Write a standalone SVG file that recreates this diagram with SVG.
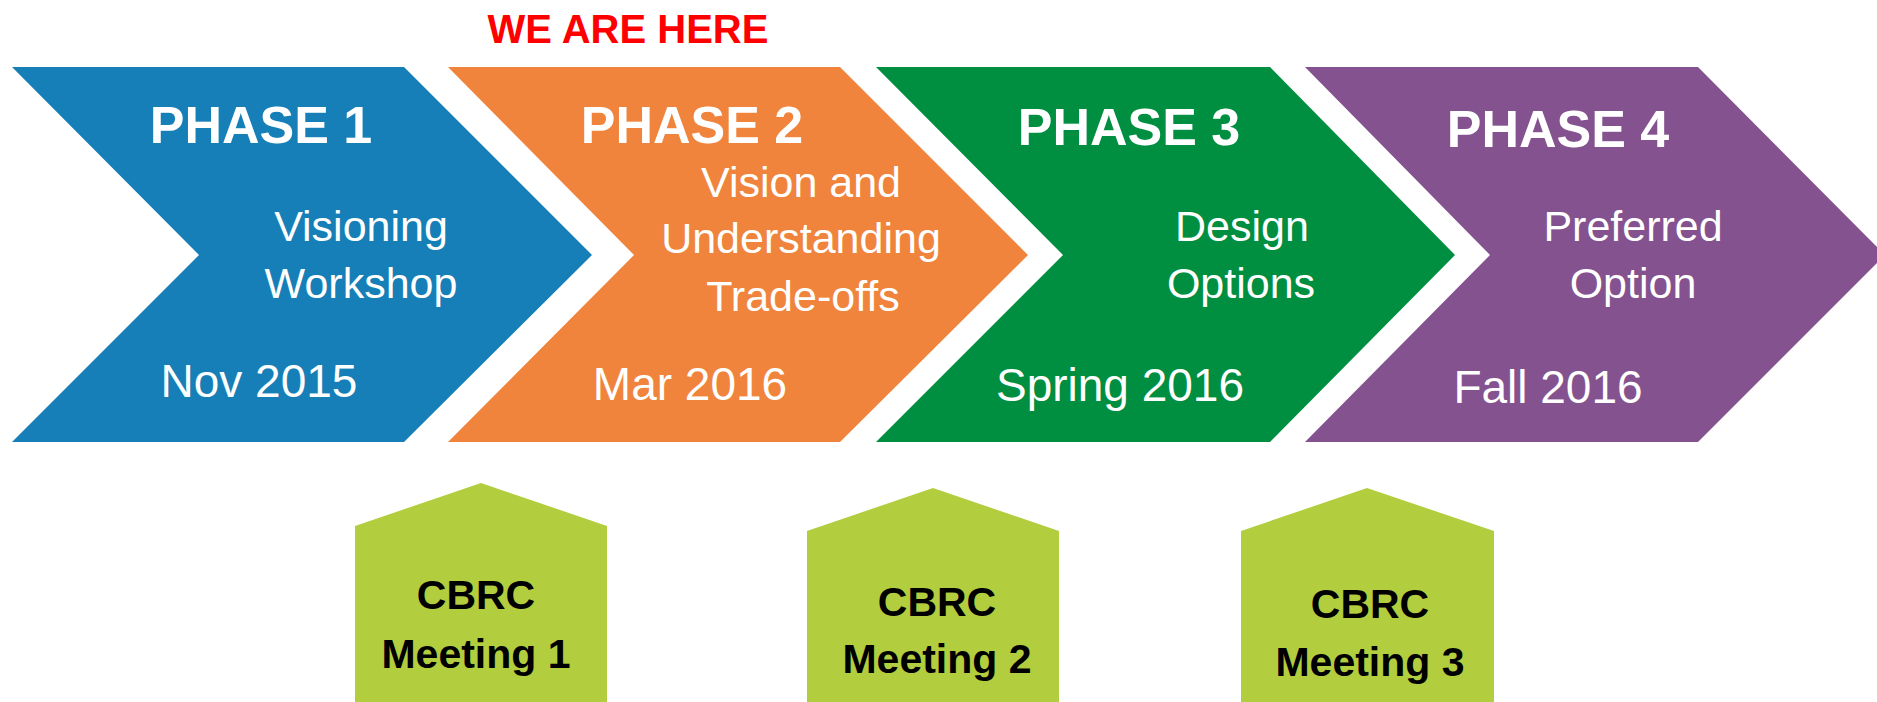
<svg xmlns="http://www.w3.org/2000/svg" width="1877" height="702" viewBox="0 0 1877 702">
  <style>
    .phase { font-family: "Liberation Sans", Arial, sans-serif; font-weight: bold; font-size: 52px; fill: #ffffff; text-anchor: middle; }
    .desc { font-family: "Liberation Sans", Arial, sans-serif; font-size: 43px; fill: #ffffff; text-anchor: middle; }
    .date { font-family: "Liberation Sans", Arial, sans-serif; font-size: 46px; fill: #ffffff; text-anchor: middle; }
    .meet { font-family: "Liberation Sans", Arial, sans-serif; font-weight: bold; font-size: 41px; fill: #000000; text-anchor: middle; }
    .here { font-family: "Liberation Sans", Arial, sans-serif; font-weight: bold; font-size: 40px; fill: #ff0000; text-anchor: middle; }
    .lime { fill: #b2cd3d; }
  </style>
  <rect width="1877" height="702" fill="#ffffff"/>
  <text class="here" x="628" y="43">WE ARE HERE</text>

  <g id="phase1">
    <polygon points="12,67 404,67 592,255 404,442 12,442 199,255" fill="#167fb7"/>
    <text class="phase" x="261" y="143">PHASE 1</text>
    <text class="desc" x="361" y="241">Visioning</text>
    <text class="desc" x="361" y="298">Workshop</text>
    <text class="date" x="259" y="397">Nov 2015</text>
  </g>

  <g id="phase2">
    <polygon points="448,67 840,67 1028,255 840,442 448,442 634,255" fill="#f0843c"/>
    <text class="phase" x="692" y="143">PHASE 2</text>
    <text class="desc" x="801" y="197">Vision and</text>
    <text class="desc" x="801" y="253">Understanding</text>
    <text class="desc" x="803" y="311">Trade-offs</text>
    <text class="date" x="690" y="400">Mar 2016</text>
  </g>

  <g id="phase3">
    <polygon points="876,67 1270,67 1455,255 1270,442 876,442 1063,255" fill="#008f40"/>
    <text class="phase" x="1129" y="145">PHASE 3</text>
    <text class="desc" x="1242" y="241">Design</text>
    <text class="desc" x="1241" y="298">Options</text>
    <text class="date" x="1120" y="401">Spring 2016</text>
  </g>

  <g id="phase4">
    <polygon points="1305,67 1698,67 1885,255 1698,442 1305,442 1490,255" fill="#84528f"/>
    <text class="phase" x="1558" y="147">PHASE 4</text>
    <text class="desc" x="1633" y="241">Preferred</text>
    <text class="desc" x="1633" y="298">Option</text>
    <text class="date" x="1548" y="403">Fall 2016</text>
  </g>

  <g id="meeting1">
    <polygon class="lime" points="355,526 481,483 607,526 607,702 355,702"/>
    <text class="meet" x="476" y="609">CBRC</text>
    <text class="meet" x="476" y="668">Meeting 1</text>
  </g>

  <g id="meeting2">
    <polygon class="lime" points="807,531 933,488 1059,531 1059,702 807,702"/>
    <text class="meet" x="937" y="616">CBRC</text>
    <text class="meet" x="937" y="673">Meeting 2</text>
  </g>

  <g id="meeting3">
    <polygon class="lime" points="1241,531 1367,488 1494,531 1494,702 1241,702"/>
    <text class="meet" x="1370" y="618">CBRC</text>
    <text class="meet" x="1370" y="676">Meeting 3</text>
  </g>

  <g id="connectors"/>
</svg>
